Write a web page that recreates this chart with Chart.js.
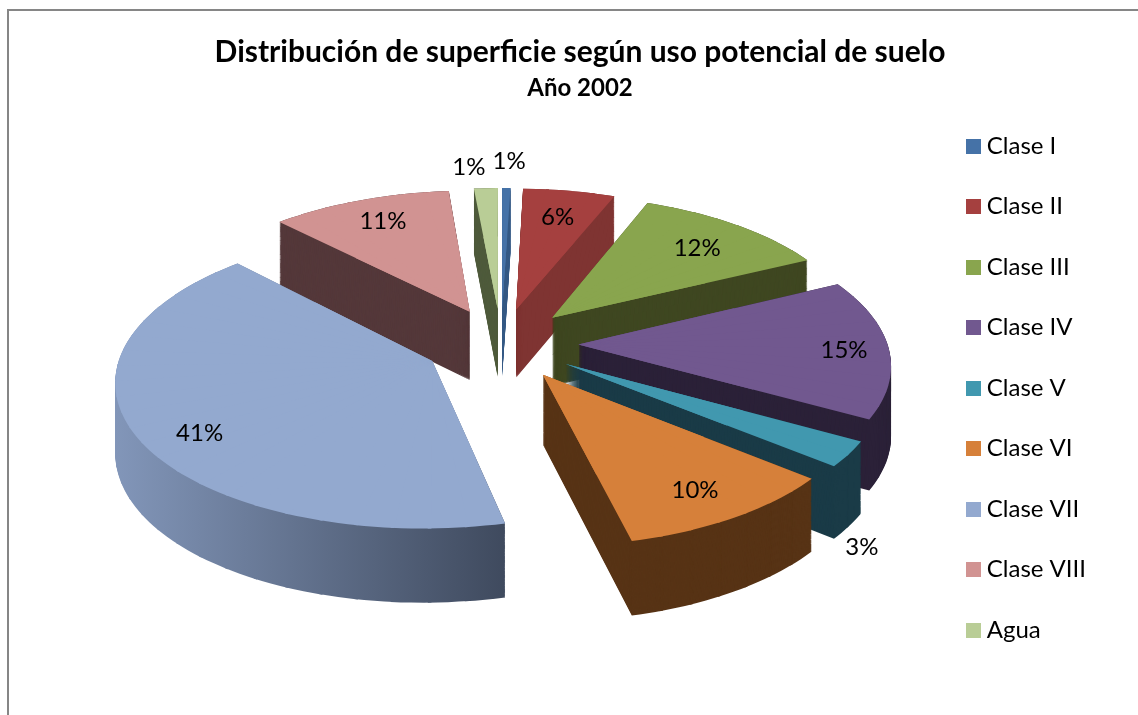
<!DOCTYPE html>
<html>
<head>
<meta charset="utf-8">
<style>
html, body { margin: 0; padding: 0; background: #fff; overflow: hidden; }
#wrap { width: 1138px; height: 715px; }
</style>
<script src="https://cdn.jsdelivr.net/npm/chart.js@4/dist/chart.umd.min.js"></script>
</head>
<body>
<div id="wrap"><canvas id="chart"></canvas></div>
<script>
const titleText = 'Distribución de superficie según uso potencial de suelo';
const subtitleText = 'Año 2002';
const categories = ['Clase I', 'Clase II', 'Clase III', 'Clase IV', 'Clase V', 'Clase VI', 'Clase VII', 'Clase VIII', 'Agua'];
const values = [0.5, 5.5, 11.7, 15.49, 2.8, 10.3, 41.49, 10.79, 1.43];
const topColors = ['#4572a7', '#a5403f', '#89a54e', '#71588f', '#4198af', '#d6803a', '#93a9cf', '#d19392', '#b9cd96'];
const sideColors = [
	['#375b86', '#375b86'], ['#7f3432', '#7f3432'], ['#3f4721', '#3f4721'],
	['#2b2138', '#2b2138'], ['#1a3b47', '#1a3b47'], ['#573315', '#573315'],
	['#8296b9', '#3f4a5e'], ['#54383a', '#54383a'], ['#4f5b3c', '#4f5b3c']
];
const labelDistance = [1.24, 0.76, 0.76, 0.85, 1.03, 0.82, 0.85, 0.8, 1.2];
const labelDrop = [0, 0, 0, 0, 1.18, 0, 0, 0, 0];
const labelShiftX = [2, 0, 2, 2, 4, -2, 17, 3, -15];
const labelShiftY = [-2, 0, 2, 2, 5, 1, 9, 0, 0];

// view of the tilted pie: unit circle in the plane goes through this projection
const view = { cx: 501, cy: 343.5, rx: 309, ry: 143, depth: 69, persp: 0.12, explode: 0.25 };
const maxStep = 6 * Math.PI / 180;
const overlap = 0.6 * Math.PI / 180;

const project = (x, y, z) => {
	const w = 1 / (1 - view.persp * y);
	return { x: view.cx + view.rx * x * w, y: view.cy + view.ry * y * w + view.depth * z * Math.sqrt(w) };
};

// affine that puts the sector s..e of an arc on its projected three corners
const sectorMatrix = (arc, mid, s, e, z, R) => {
	const ex = view.explode * Math.cos(mid);
	const ey = view.explode * Math.sin(mid);
	const ux = Math.cos(s), uy = Math.sin(s);
	const vx = Math.cos(e), vy = Math.sin(e);
	const p0 = project(ex, ey, z);
	const p1 = project(ex + ux, ey + uy, z);
	const p2 = project(ex + vx, ey + vy, z);
	const det = R * (ux * vy - uy * vx);
	const a = ((p1.x - p0.x) * vy - (p2.x - p0.x) * uy) / det;
	const c = (ux * (p2.x - p0.x) - vx * (p1.x - p0.x)) / det;
	const b = ((p1.y - p0.y) * vy - (p2.y - p0.y) * uy) / det;
	const d = (ux * (p2.y - p0.y) - vx * (p1.y - p0.y)) / det;
	return { a, b, c, d, e: p0.x - a * arc.x - c * arc.y, f: p0.y - b * arc.x - d * arc.y };
};

// horizontal gradient on screen, whatever the matrix does to it
const sideFill = (ctx, m, x0, x1, colors) => {
	if (colors[0] === colors[1]) return colors[0];
	const det = m.a * m.d - m.b * m.c;
	const toUser = (X, Y) => ({
		x: (m.d * (X - m.e) - m.c * (Y - m.f)) / det,
		y: (m.a * (Y - m.f) - m.b * (X - m.e)) / det
	});
	const u0 = toUser(x0, 0);
	const u1 = toUser(x1, 0);
	const up = toUser(x0, 100);
	let nx = -(up.y - u0.y), ny = up.x - u0.x;
	const len = Math.hypot(nx, ny);
	nx /= len; ny /= len;
	const t = (u1.x - u0.x) * nx + (u1.y - u0.y) * ny;
	const g = ctx.createLinearGradient(u0.x, u0.y, u0.x + nx * t, u0.y + ny * t);
	g.addColorStop(0, colors[0]);
	g.addColorStop(1, colors[1]);
	return g;
};

// one layer of a slice, cut in narrow sectors so the perspective follows the rim
const drawLayer = (ctx, arc, z, colors, x0, x1, withBase) => {
	const saved = { o: arc.options, s: arc.startAngle, e: arc.endAngle, c: arc.circumference, r: arc.outerRadius };
	const mid = (saved.s + saved.e) / 2;
	const n = Math.max(1, Math.ceil((saved.e - saved.s) / maxStep));
	const step = (saved.e - saved.s) / n;
	const put = (s, e) => {
		const m = sectorMatrix(arc, mid, s, e, z, saved.r);
		arc.startAngle = s;
		arc.endAngle = e;
		arc.circumference = e - s;
		arc.options = { ...saved.o, backgroundColor: sideFill(ctx, m, x0, x1, colors), borderWidth: 0 };
		ctx.setTransform(m.a, m.b, m.c, m.d, m.e, m.f);
		arc.draw(ctx);
	};
	// small copy of the whole slice first, it hides the hairlines where the sectors meet near the apex
	if (withBase) {
		arc.outerRadius = saved.r * 0.6;
		put(saved.s, saved.e);
		arc.outerRadius = saved.r;
	}
	for (let k = 0; k < n; k++) {
		const s = saved.s + step * k;
		put(s, Math.min(saved.e, s + step + overlap));
	}
	arc.options = saved.o;
	arc.startAngle = saved.s;
	arc.endAngle = saved.e;
	arc.circumference = saved.c;
};

const pie3d = {
	id: 'pie3d',
	beforeDraw(chart) {
		const ctx = chart.ctx;
		ctx.save();
		ctx.strokeStyle = '#868686';
		ctx.lineWidth = 2;
		ctx.beginPath();
		ctx.moveTo(8, chart.height);
		ctx.lineTo(8, 10);
		ctx.lineTo(chart.width, 10);
		ctx.stroke();
		ctx.restore();
	},
	beforeDatasetsDraw(chart) {
		const ctx = chart.ctx;
		const midOf = arc => (arc.startAngle + arc.endAngle) / 2;
		const arcs = chart.getDatasetMeta(0).data.map((arc, i) => ({ arc, i }));
		arcs.sort((p, q) => Math.sin(midOf(p.arc)) - Math.sin(midOf(q.arc)));
		ctx.save();
		arcs.forEach(({ arc, i }) => {
			const mid = midOf(arc);
			let x0 = Infinity, x1 = -Infinity;
			for (let k = 0; k <= 24; k++) {
				const t = arc.startAngle + (arc.endAngle - arc.startAngle) * k / 24;
				const p = project(view.explode * Math.cos(mid) + Math.cos(t), view.explode * Math.sin(mid) + Math.sin(t), 0);
				x0 = Math.min(x0, p.x);
				x1 = Math.max(x1, p.x);
			}
			for (let z = 1; z > 0; z -= 1 / view.depth) {
				drawLayer(ctx, arc, z, sideColors[i], x0, x1, false);
			}
			drawLayer(ctx, arc, 0, [topColors[i], topColors[i]], x0, x1, true);
		});
		ctx.restore();

		ctx.save();
		ctx.fillStyle = '#000';
		ctx.font = '24px Lato';
		ctx.textAlign = 'center';
		ctx.textBaseline = 'middle';
		const total = values.reduce((s, v) => s + v, 0);
		chart.getDatasetMeta(0).data.forEach((arc, i) => {
			const mid = midOf(arc);
			const r = view.explode + labelDistance[i];
			const p = project(r * Math.cos(mid), r * Math.sin(mid), labelDrop[i]);
			ctx.fillText(Math.round(values[i] / total * 100) + '%', p.x + labelShiftX[i], p.y + labelShiftY[i]);
		});
		ctx.restore();
		return false;
	}
};

// legend square as a small canvas, so the text can sit closer than the default gap
const swatch = color => {
	const c = document.createElement('canvas');
	c.width = 15;
	c.height = 15;
	const g = c.getContext('2d');
	g.fillStyle = color;
	g.fillRect(0, 0, 15, 15);
	return c;
};

new Chart(document.getElementById('chart'), {
	type: 'pie',
	data: {
		labels: categories,
		datasets: [{ data: values, backgroundColor: topColors, borderWidth: 0 }]
	},
	options: {
		responsive: true,
		maintainAspectRatio: false,
		animation: false,
		layout: { padding: { left: 64, right: 42, top: 20, bottom: -41 } },
		plugins: {
			title: {
				display: true,
				text: titleText,
				color: '#000',
				font: { family: 'Lato', size: 30, weight: 'bold' },
				padding: { top: 14, bottom: 0 }
			},
			subtitle: {
				display: true,
				text: subtitleText,
				color: '#000',
				font: { family: 'Lato', size: 24, weight: 'bold' },
				padding: { top: 4, bottom: 10 }
			},
			legend: {
				position: 'right',
				labels: {
					color: '#000',
					font: { family: 'Lato', size: 24 },
					usePointStyle: true,
					pointStyleWidth: 3,
					boxHeight: 15,
					padding: 36.5,
					generateLabels: () => categories.map((text, i) => ({
						text,
						index: i,
						hidden: false,
						fillStyle: topColors[i],
						strokeStyle: topColors[i],
						lineWidth: 0,
						fontColor: '#000',
						pointStyle: swatch(topColors[i])
					}))
				}
			},
			tooltip: { enabled: false }
		}
	},
	plugins: [pie3d]
});
</script>
</body>
</html>
